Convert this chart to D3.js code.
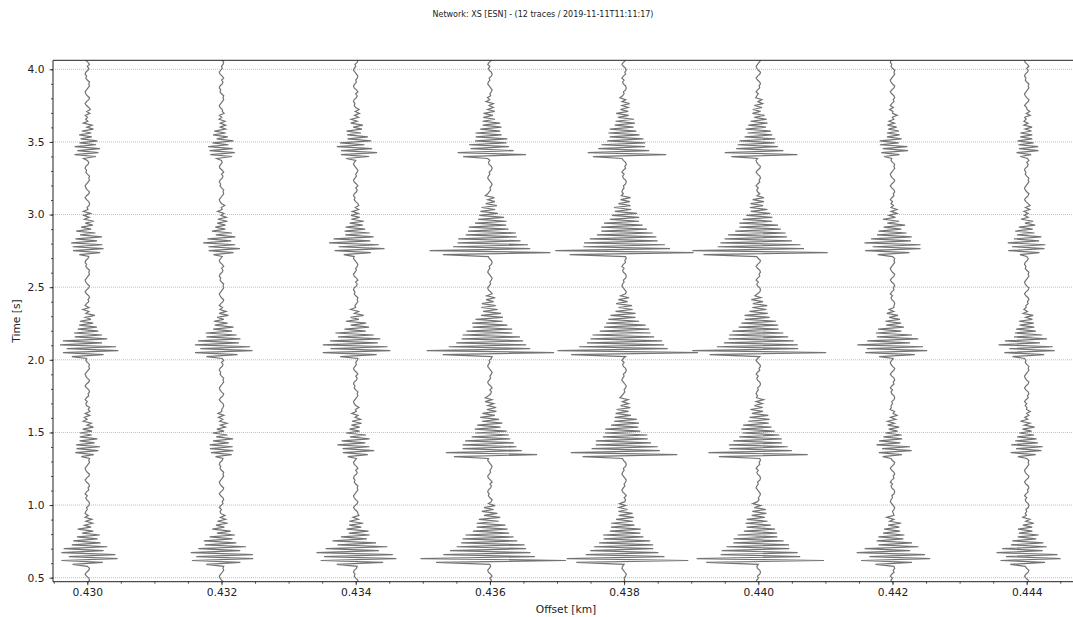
<!DOCTYPE html>
<html>
<head>
<meta charset="utf-8">
<script src="https://cdn.jsdelivr.net/npm/d3@7"></script>
<style>
  body { margin: 0; background: #fff; }
  text { font-family: "DejaVu Sans", sans-serif; fill: #222; }
</style>
</head>
<body>
<svg id="chart" width="1073" height="617"></svg>
<script>
// station offsets [km]
const offsets = [0.430, 0.432, 0.434, 0.436, 0.438, 0.440, 0.442, 0.444];
// arrival onset times [s] per trace (5 bursts each)
const onsets = [
  [0.59, 1.33, 2.02, 2.72, 3.39],
  [0.59, 1.34, 2.02, 2.72, 3.39],
  [0.59, 1.34, 2.02, 2.72, 3.39],
  [0.61, 1.34, 2.03, 2.72, 3.40],
  [0.61, 1.34, 2.03, 2.72, 3.40],
  [0.61, 1.34, 2.03, 2.72, 3.40],
  [0.59, 1.34, 2.02, 2.72, 3.40],
  [0.59, 1.34, 2.02, 2.72, 3.40]
];
// peak amplitude of each burst (normalised)
const amps = [
  [0.40, 0.18, 0.40, 0.24, 0.18],
  [0.46, 0.18, 0.41, 0.24, 0.19],
  [0.57, 0.24, 0.49, 0.36, 0.27],
  [1.00, 0.65, 0.88, 0.85, 0.47],
  [0.85, 0.75, 0.97, 0.97, 0.55],
  [0.90, 0.70, 0.92, 0.95, 0.50],
  [0.49, 0.23, 0.47, 0.40, 0.19],
  [0.43, 0.22, 0.38, 0.27, 0.15]
];
const shapes = ["ragged", "ragged", "ragged", "big", "big", "big", "ragged", "ragged"];
// sample-by-sample wavelets (one value per sample)
const bigWavelet = [-0.75, 1.0, -0.95, 0.62, -0.6, 0.57, -0.54, 0.5, -0.47, 0.44, -0.41, 0.38,
  -0.35, 0.32, -0.3, 0.27, -0.25, 0.23, -0.21, 0.19, -0.17, 0.15, -0.14, 0.12, -0.11, 0.1,
  -0.09, 0.08, -0.07, 0.06, -0.05];
const raggedWavelet = [-0.45, 0.6, -0.85, 1.0, -0.7, 0.9, -0.95, 0.55, -0.75, 0.7, -0.45, 0.5,
  -0.5, 0.3, -0.35, 0.35, -0.2, 0.25, -0.25, 0.15, -0.12, 0.18, -0.1, 0.08, -0.1, 0.06];
// background noise samples
const noise = [0.01, 0.03, 0.02, -0.01, -0.03, -0.01, 0.02, 0.03, 0.0, -0.02, -0.03, -0.01,
  0.01, 0.03, 0.02, 0.03, 0.0, -0.02, -0.01, -0.03, -0.02, 0.01, 0.02, 0.0, 0.03, 0.01,
  -0.02, -0.03, -0.01, 0.01, 0.0, 0.02, 0.03, 0.01, -0.01, -0.03, -0.02, 0.0, -0.01, 0.02,
  0.03, 0.02, -0.01, -0.02, 0.0, -0.03, -0.01, 0.02];
const xTicks = [0.430, 0.432, 0.434, 0.436, 0.438, 0.440, 0.442, 0.444];
const yTicks = [0.5, 1.0, 1.5, 2.0, 2.5, 3.0, 3.5, 4.0];
const t0 = 0.47, dt = 0.0135, tEnd = 4.08;
const ampScale = 0.0011; // km per unit amplitude

const svg = d3.select("#chart");
const axLeft = 53, axRight = 1080, axTop = 60.3, axBottom = 581.7;

const x = d3.scaleLinear().domain([0.430, 0.444]).range([87.3, 1026.7]);
const y = d3.scaleLinear().domain([0.5, 4.0]).range([577.7, 69.3]);

svg.append("defs").append("clipPath").attr("id", "clip")
  .append("rect").attr("x", axLeft).attr("y", axTop)
  .attr("width", axRight - axLeft).attr("height", axBottom - axTop);

// grid
svg.append("g").selectAll("line").data(yTicks).join("line")
  .attr("x1", axLeft).attr("x2", axRight)
  .attr("y1", d => y(d)).attr("y2", d => y(d))
  .attr("stroke", "#b0b0b0").attr("stroke-width", 0.8)
  .attr("stroke-dasharray", "1,1");

// traces
const n = Math.ceil((tEnd - t0) / dt);
const traces = offsets.map((off, ti) => {
  const w = shapes[ti] === "big" ? bigWavelet : raggedWavelet;
  const starts = onsets[ti].map(o => Math.round((o - t0) / dt));
  const pts = [];
  for (let i = 0; i <= n; i++) {
    let v = noise[(i + ti * 7) % noise.length];
    starts.forEach((s, b) => {
      const k = i - s;
      if (k >= 0 && k < w.length) v += amps[ti][b] * w[k];
    });
    pts.push([t0 + i * dt, v]);
  }
  return { off, pts };
});

svg.append("g").attr("clip-path", "url(#clip)")
  .selectAll("path").data(traces).join("path")
  .attr("d", d => d3.line().x(p => x(d.off + p[1] * ampScale)).y(p => y(p[0]))(d.pts))
  .attr("fill", "none").attr("stroke", "#737373").attr("stroke-width", 1.2);

// axes
svg.append("g").attr("transform", `translate(0,${axBottom})`)
  .call(d3.axisBottom(x).tickValues(xTicks).tickFormat(d3.format(".3f"))
    .tickSize(3.5).tickPadding(3.5));
svg.append("g").attr("transform", `translate(0,${axBottom})`)
  .call(d3.axisBottom(x).tickValues(d3.range(0.4295, 0.4451, 0.0005)).tickFormat("").tickSize(2));
svg.append("g").attr("transform", `translate(${axLeft},0)`)
  .call(d3.axisLeft(y).tickValues(yTicks).tickFormat(d3.format(".1f"))
    .tickSize(3.5).tickPadding(5));
svg.append("g").attr("transform", `translate(${axLeft},0)`)
  .call(d3.axisLeft(y).tickValues(d3.range(0.5, 4.05, 0.1)).tickFormat("").tickSize(2));
svg.selectAll(".domain").remove();
svg.selectAll(".tick line").attr("stroke", "#222").attr("stroke-width", 0.8);
svg.selectAll(".tick text").style("font-size", "10.7px").style("fill", "#222");

// spines
[[axLeft, axTop, axLeft, axBottom], [axLeft, axTop, axRight, axTop],
 [axLeft, axBottom, axRight, axBottom], [axRight, axTop, axRight, axBottom]]
  .forEach(([a, b, c, d]) => svg.append("line")
    .attr("x1", a).attr("y1", b).attr("x2", c).attr("y2", d)
    .attr("stroke", "#222").attr("stroke-width", 1));

// labels
svg.append("text").attr("x", 566).attr("y", 613).attr("text-anchor", "middle")
  .style("font-size", "10.7px").text("Offset [km]");
svg.append("text").attr("transform", "translate(20,321) rotate(-90)").attr("text-anchor", "middle")
  .style("font-size", "10.7px").text("Time [s]");
svg.append("text").attr("x", 543).attr("y", 17).attr("text-anchor", "middle")
  .style("font-size", "8px").text("Network: XS [ESN] - (12 traces / 2019-11-11T11:11:17)");
</script>
</body>
</html>
